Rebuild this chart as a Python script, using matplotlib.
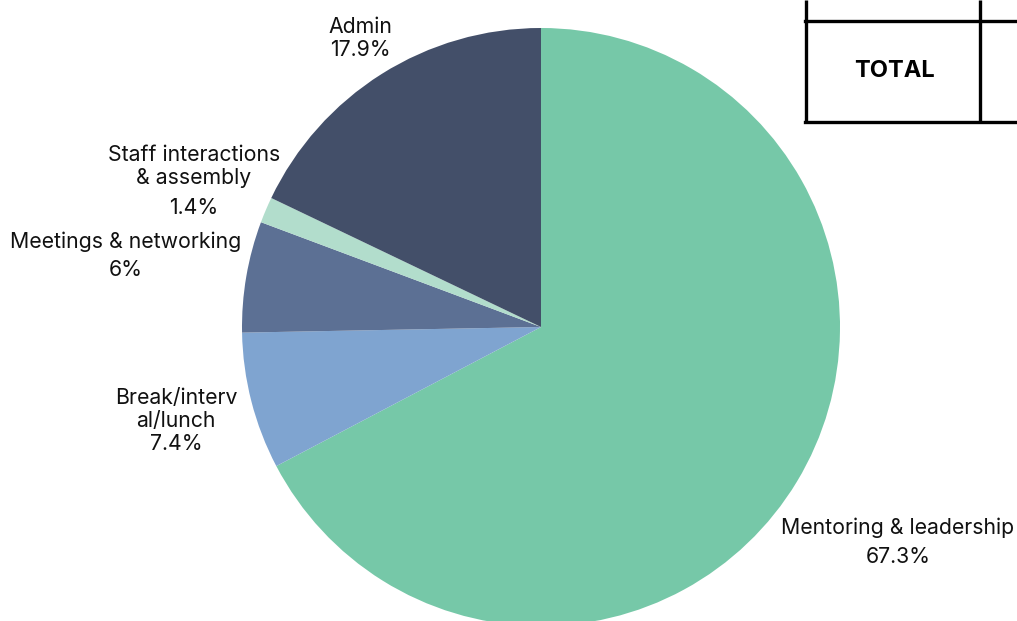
import matplotlib.pyplot as plt

# time split
categories = ['Mentoring & leadership', 'Break/interval/lunch', 'Meetings & networking',
              'Staff interactions & assembly', 'Admin']
shares = [67.3, 7.4, 6.0, 1.4, 17.9]
pct_labels = ['67.3%', '7.4%', '6%', '1.4%', '17.9%']
colors = ['#76C8A8', '#7FA4D0', '#5C7094', '#B2DDCC', '#434F69']

# how each label is broken/placed on the picture (pixel coords, y from top)
label_lines = [
    ['Mentoring & leadership'],
    ['Break/interv', 'al/lunch'],
    ['Meetings & networking'],
    ['Staff interactions', '& assembly'],
    ['Admin'],
]
label_x = [898, 176, 126, 194, 360]
label_y = [[528, 557], [398, 421, 444], [242, 270], [155, 178, 208], [27, 50]]

W, H = 1017, 621
plt.rcParams['font.family'] = ['Inter', 'DejaVu Sans']

fig = plt.figure(figsize=(W / 100, H / 100), dpi=100)
ax = fig.add_axes([0, 0, 1, 1])

ax.pie(shares, colors=colors, startangle=90, counterclock=False,
       center=(541, H - 327), radius=299, frame=True,
       wedgeprops=dict(linewidth=0))
ax.set_xlim(0, W)
ax.set_ylim(0, H)
ax.set_aspect('equal')
ax.axis('off')

for lines, pct, x, ys in zip(label_lines, pct_labels, label_x, label_y):
    for txt, y in zip(lines + [pct], ys):
        ax.text(x, H - y, txt, ha='center', va='center', fontsize=15.3,
                color='#111111')

# piece of a table cut off at the top right
lw = 2.4
ax.plot([806, 806], [H, H - 123], color='black', lw=lw, solid_capstyle='butt')
ax.plot([980, 980], [H, H - 123], color='black', lw=lw, solid_capstyle='butt')
ax.plot([805, W], [H - 21, H - 21], color='black', lw=lw)
ax.plot([805, W], [H - 122, H - 122], color='black', lw=lw)
ax.text(894, H - 71, 'TOTAL', ha='center', va='center', fontsize=17,
        fontweight='bold', color='black')

fig.savefig('out.png', dpi=100)
